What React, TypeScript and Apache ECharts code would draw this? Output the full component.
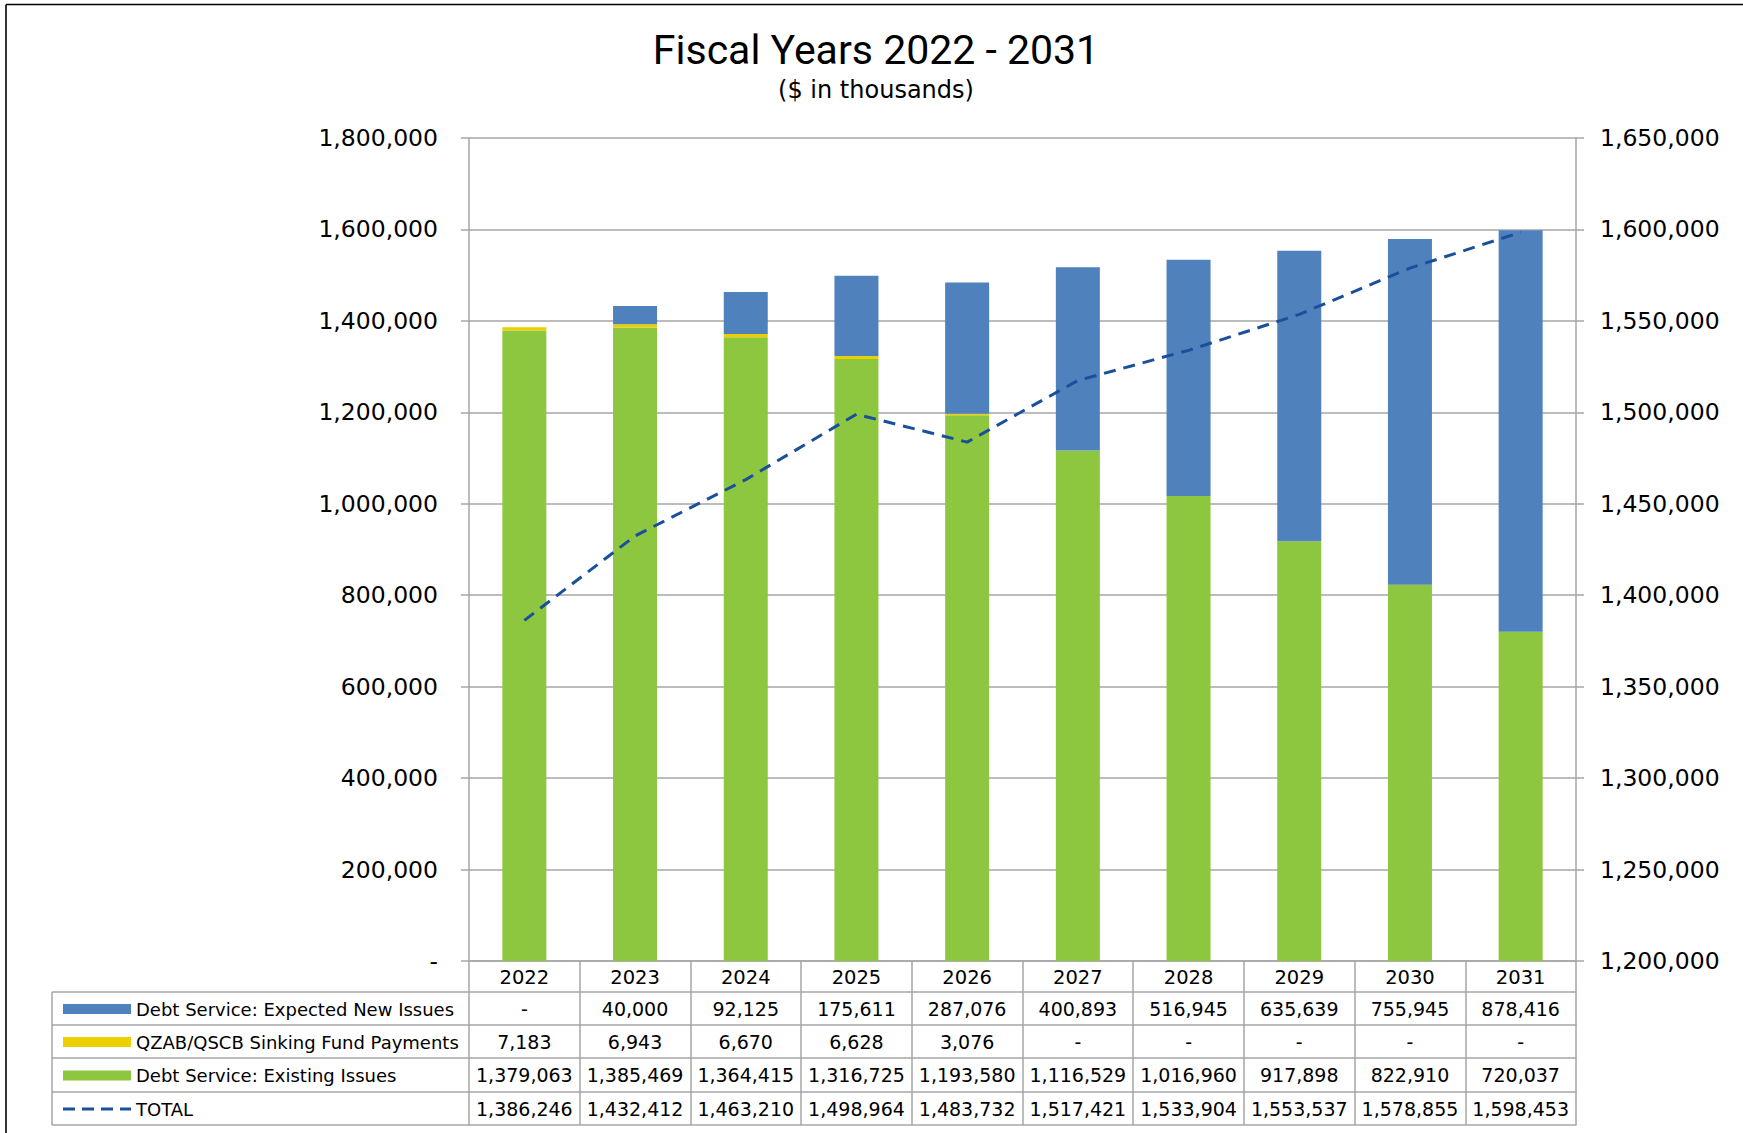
import React, { useEffect, useRef } from "react";
import * as echarts from "echarts";

const years = ["2022", "2023", "2024", "2025", "2026", "2027", "2028", "2029", "2030", "2031"];
const newIssues = [0, 40000, 92125, 175611, 287076, 400893, 516945, 635639, 755945, 878416];
const qzab = [7183, 6943, 6670, 6628, 3076, 0, 0, 0, 0, 0];
const existing = [1379063, 1385469, 1364415, 1316725, 1193580, 1116529, 1016960, 917898, 822910, 720037];
const total = [1386246, 1432412, 1463210, 1498964, 1483732, 1517421, 1533904, 1553537, 1578855, 1598453];

const NAME_NEW = "Debt Service: Expected New Issues";
const NAME_QZAB = "QZAB/QSCB Sinking Fund Payments";
const NAME_EXIST = "Debt Service: Existing Issues";
const NAME_TOTAL = "TOTAL";

const W = 1743;
const H = 1133;
const FONT = "DejaVu Sans";
const TITLE_FONT = "Roboto";
const GRID_L = 469;
const GRID_R = 1576;
const GRID_T = 138;
const GRID_B = 961;
const HEAD_H = 31;
const ROW_H = [33, 33, 34, 33];
const TABLE_L = 52;
const GRAY = "#a6a6a6";
const LINE_BLUE = "#1A4F9C";

const fmt = (v: number) => (v === 0 || v == null ? "-" : v.toLocaleString("en-US"));

export default function App() {
  const ref = useRef<HTMLDivElement>(null);
  useEffect(() => {
    document.body.style.margin = "0";
    document.body.style.overflow = "hidden";
    const chart = echarts.init(ref.current!, null, { renderer: "svg" });

    const rowTops: number[] = [];
    let acc = GRID_B + HEAD_H;
    for (let i = 0; i < ROW_H.length; i++) {
      rowTops.push(acc);
      acc += ROW_H[i];
    }
    const tableBottom = acc;
    const rows = [newIssues, qzab, existing, total];
    const names = [NAME_NEW, NAME_QZAB, NAME_EXIST, NAME_TOTAL];

    const tableAxes = rows.map((row, i) => ({
      type: "category",
      data: years,
      position: "bottom",
      offset: rowTops[i] - GRID_B,
      axisLine: { show: true, onZero: false, lineStyle: { color: GRAY, width: 1.5 } },
      axisTick: { show: true, interval: 0, length: ROW_H[i], lineStyle: { color: GRAY, width: 1.5 } },
      axisLabel: {
        interval: 0,
        margin: 7,
        fontSize: 19,
        fontFamily: FONT,
        color: "#000",
        formatter: (_v: string, idx: number) => fmt(row[idx]),
      },
      splitLine: { show: false },
    }));

    const dashIcon = "path://M0,0h12v3h-12z M19,0h12v3h-12z M38,0h12v3h-12z M57,0h11v3h-11z";

    const legendItems = names.map((n, i) => ({
      show: true,
      selectedMode: false,
      orient: "horizontal",
      left: 58,
      top: rowTops[i] + (ROW_H[i] - 21) / 2 - 3,
      itemWidth: 68,
      itemHeight: i === 3 ? 3 : 10,
      itemGap: 0,
      textStyle: { fontSize: 18, fontFamily: FONT, color: "#000" },
      data: i === 3 ? [{ name: n, icon: dashIcon }] : [{ name: n, icon: "rect" }],
    }));

    const frameLines: any[] = [];
    const hy = [rowTops[0], rowTops[1], rowTops[2], rowTops[3], tableBottom];
    hy.forEach((y) =>
      frameLines.push({
        type: "line",
        shape: { x1: TABLE_L, y1: y, x2: GRID_L, y2: y },
        style: { stroke: GRAY, lineWidth: 1.5 },
      })
    );
    frameLines.push({
      type: "line",
      shape: { x1: TABLE_L, y1: rowTops[0], x2: TABLE_L, y2: tableBottom },
      style: { stroke: GRAY, lineWidth: 1.5 },
    });

    chart.setOption({
      animation: false,
      backgroundColor: "#fff",
      textStyle: { fontFamily: FONT },
      grid: { left: GRID_L, right: W - GRID_R, top: GRID_T, bottom: H - GRID_B, containLabel: false },
      legend: legendItems,
      graphic: [
        {
          type: "line",
          shape: { x1: 6, y1: 4.5, x2: W, y2: 4.5 },
          style: { stroke: "#000", lineWidth: 1.6 },
        },
        {
          type: "line",
          shape: { x1: 6, y1: 4.5, x2: 6, y2: H },
          style: { stroke: "#000", lineWidth: 1.6 },
        },
        {
          type: "text",
          x: 876,
          y: 50,
          style: {
            text: "Fiscal Years 2022 - 2031",
            fontSize: 41,
            fontWeight: 400,
            fontFamily: TITLE_FONT,
            fill: "#000",
            textAlign: "center",
            textVerticalAlign: "middle",
          },
        },
        {
          type: "text",
          x: 876,
          y: 90,
          style: {
            text: "($ in thousands)",
            fontSize: 24,
            fontFamily: FONT,
            fill: "#000",
            textAlign: "center",
            textVerticalAlign: "middle",
          },
        },
        ...frameLines,
      ],
      xAxis: [
        {
          type: "category",
          data: years,
          position: "bottom",
          axisLine: { show: true, onZero: false, lineStyle: { color: GRAY, width: 1.5 } },
          axisTick: { show: true, interval: 0, length: HEAD_H, lineStyle: { color: GRAY, width: 1.5 } },
          axisLabel: { interval: 0, margin: 6, fontSize: 19.5, fontFamily: FONT, color: "#000" },
          splitLine: { show: false },
        },
        ...tableAxes,
        {
          type: "category",
          data: years,
          position: "bottom",
          offset: tableBottom - GRID_B,
          axisLine: { show: true, onZero: false, lineStyle: { color: GRAY, width: 1.5 } },
          axisTick: { show: false },
          axisLabel: { show: false },
        },
      ],
      yAxis: [
        {
          type: "value",
          min: 0,
          max: 1800000,
          interval: 200000,
          axisLine: { show: true, lineStyle: { color: GRAY, width: 1.5 } },
          axisTick: { show: true, length: 8, lineStyle: { color: GRAY, width: 1.5 } },
          axisLabel: {
            margin: 31,
            fontSize: 23.5,
            fontFamily: FONT,
            color: "#000",
            formatter: (v: number) => fmt(v),
          },
          splitLine: { show: true, lineStyle: { color: GRAY, width: 1.5 } },
        },
        {
          type: "value",
          position: "right",
          min: 1200000,
          max: 1650000,
          interval: 50000,
          axisLine: { show: true, lineStyle: { color: GRAY, width: 1.5 } },
          axisTick: { show: true, length: 8, lineStyle: { color: GRAY, width: 1.5 } },
          axisLabel: {
            margin: 24,
            fontSize: 23.5,
            fontFamily: FONT,
            color: "#000",
            formatter: (v: number) => fmt(v),
          },
          splitLine: { show: false },
        },
      ],
      series: [
        {
          name: NAME_EXIST,
          type: "bar",
          stack: "ds",
          barWidth: 44,
          data: existing,
          itemStyle: { color: "#8DC63F" },
        },
        {
          name: NAME_QZAB,
          type: "bar",
          stack: "ds",
          barWidth: 44,
          data: qzab,
          itemStyle: { color: "#EDCF00" },
        },
        {
          name: NAME_NEW,
          type: "bar",
          stack: "ds",
          barWidth: 44,
          data: newIssues,
          itemStyle: { color: "#4F81BD" },
        },
        {
          name: NAME_TOTAL,
          type: "line",
          yAxisIndex: 1,
          data: total,
          symbol: "none",
          showSymbol: false,
          z: 5,
          itemStyle: { color: LINE_BLUE },
          lineStyle: { color: LINE_BLUE, width: 3, type: [12, 8] },
        },
      ],
    });
    return () => chart.dispose();
  }, []);
  return <div ref={ref} style={{ width: W, height: H }} />;
}
